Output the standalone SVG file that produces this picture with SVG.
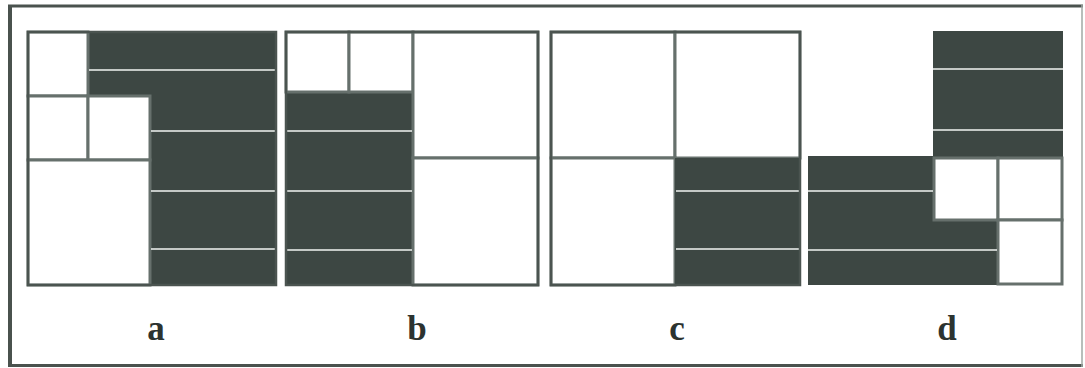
<svg xmlns="http://www.w3.org/2000/svg" width="1085" height="368" viewBox="0 0 1085 368">
  <style>
    .dark { fill: #3d4743; }
    .cell { fill: #ffffff; stroke: #66706c; stroke-width: 3; }
    .border { fill: none; stroke: #4b5450; stroke-width: 2.5; }
    .scan { stroke: #f2f4f2; stroke-width: 1.6; }
    .lbl { font-family: "Liberation Serif", "Times New Roman", serif; font-weight: bold; font-size: 35px; fill: #2c3330; text-anchor: middle; }
  </style>
  <rect x="0" y="0" width="1085" height="368" fill="#ffffff"/>
  <g id="frame">
    <line x1="8" y1="6" x2="1083" y2="6" stroke="#4a524e" stroke-width="3"/>
    <line x1="10" y1="5" x2="10" y2="367" stroke="#4a524e" stroke-width="4"/>
    <line x1="8" y1="365.5" x2="1083" y2="365.5" stroke="#4a524e" stroke-width="3"/>
    <line x1="1082" y1="5" x2="1082" y2="367" stroke="#a0a8a4" stroke-width="1.5"/>
  </g>

  <g id="panel-a">
    <path class="dark" d="M88,32 H276 V285 H150 V96 H88 Z"/>
    <rect class="cell" x="28" y="32" width="60" height="64"/>
    <rect class="cell" x="28" y="96" width="60" height="64"/>
    <rect class="cell" x="88" y="96" width="62" height="64"/>
    <rect class="cell" x="28" y="160" width="122" height="125"/>
    <line class="scan" x1="89" y1="70" x2="276" y2="70"/>
    <line class="scan" x1="151" y1="131" x2="276" y2="131"/>
    <line class="scan" x1="151" y1="191" x2="276" y2="191"/>
    <line class="scan" x1="151" y1="249" x2="276" y2="249"/>
    <rect class="border" x="28" y="32" width="248" height="253"/>
  </g>

  <g id="panel-b">
    <rect class="dark" x="286" y="92" width="127" height="193"/>
    <rect class="cell" x="286" y="32" width="63" height="60"/>
    <rect class="cell" x="349" y="32" width="64" height="60"/>
    <rect class="cell" x="413" y="32" width="125" height="126"/>
    <rect class="cell" x="413" y="158" width="125" height="127"/>
    <line class="scan" x1="286" y1="131" x2="412" y2="131"/>
    <line class="scan" x1="286" y1="191" x2="412" y2="191"/>
    <line class="scan" x1="286" y1="250" x2="412" y2="250"/>
    <rect class="border" x="286" y="32" width="252" height="253"/>
  </g>

  <g id="panel-c">
    <rect class="cell" x="551" y="32" width="124" height="126"/>
    <rect class="cell" x="675" y="32" width="125" height="126"/>
    <rect class="cell" x="551" y="158" width="124" height="127"/>
    <rect class="dark" x="675" y="158" width="125" height="127"/>
    <line class="scan" x1="676" y1="191" x2="800" y2="191"/>
    <line class="scan" x1="676" y1="249" x2="800" y2="249"/>
    <rect class="border" x="551" y="32" width="249" height="253"/>
  </g>

  <g id="panel-d">
    <rect class="dark" x="933" y="31" width="130" height="127"/>
    <rect class="dark" x="808" y="156" width="125" height="129"/>
    <rect class="dark" x="932" y="218" width="67" height="67"/>
    <rect class="cell" x="934" y="158" width="64" height="62"/>
    <rect class="cell" x="998" y="158" width="64" height="62"/>
    <rect class="cell" x="998" y="220" width="64" height="64"/>
    <line class="scan" x1="933" y1="69" x2="1063" y2="69"/>
    <line class="scan" x1="933" y1="130" x2="1063" y2="130"/>
    <line class="scan" x1="808" y1="191" x2="933" y2="191"/>
    <line class="scan" x1="808" y1="250" x2="997" y2="250"/>
  </g>

  <g id="labels">
    <text class="lbl" x="156" y="340">a</text>
    <text class="lbl" x="417" y="340">b</text>
    <text class="lbl" x="677" y="340">c</text>
    <text class="lbl" x="947" y="340">d</text>
  </g>
</svg>
